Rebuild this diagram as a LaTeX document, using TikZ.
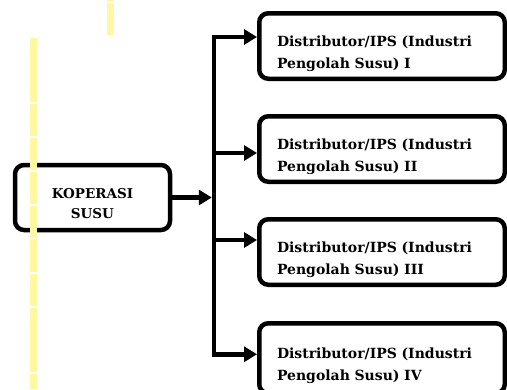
\documentclass[tikz,border=0pt]{standalone}
\usepackage{fontspec}
\setmainfont{DejaVu Serif}
\usepackage{tikz}
\usetikzlibrary{positioning,arrows.meta}
\definecolor{hlyellow}{HTML}{FFF8A0}
\tikzset{
  kopbox/.style={draw, line width=4.5pt, rounded corners=9pt, minimum width=155pt, minimum height=65pt,
                 align=center, font=\fontsize{13.5}{20}\selectfont\bfseries, text height=41pt, text depth=0pt},
  distbox/.style={draw, line width=4.5pt, rounded corners=9pt, text width=210pt, inner xsep=17.75pt,
                  minimum height=65.5pt, align=left, font=\fontsize{14}{22}\selectfont\bfseries,
                  text height=22pt, text depth=22pt},
  flow/.style={line width=4.5pt, line join=miter, -{Triangle[length=13pt,width=15pt]}},
  hlbar/.style={fill=hlyellow, draw=none},
}
\begin{document}
\begin{tikzpicture}[x=1pt, y=-1pt]
  \useasboundingbox (0,0) rectangle (507,389);
  \clip (0,0) rectangle (507,389);

  \node[kopbox] (kop) at (92.5,197.5) {KOPERASI\\SUSU};
  \node[distbox] (dist1) at (382,46) {Distributor/IPS (Industri\\Pengolah Susu) I};
  \node[distbox] (dist2) [below=33pt of dist1] {Distributor/IPS (Industri\\Pengolah Susu) II};
  \node[distbox] (dist3) [below=33pt of dist2] {Distributor/IPS (Industri\\Pengolah Susu) III};
  \node[distbox, minimum height=70pt] (dist4) [below=34pt of dist3] {Distributor/IPS (Industri\\Pengolah Susu) IV};

  % trunk and branches
  \coordinate (trunk) at (214,0);
  \coordinate (a1) at ([yshift=9pt]dist1.west);
  \coordinate (a2) at ([yshift=-4pt]dist2.west);
  \coordinate (a3) at ([yshift=12pt]dist3.west);
  \coordinate (a4) at ([yshift=4pt]dist4.west);
  \draw[flow] (a3 -| trunk) -- (a1 -| trunk) -- (a1);
  \draw[flow] (a2 -| trunk) -- (a4 -| trunk) -- (a4);
  \draw[flow] (a2 -| trunk) -- (a2);
  \draw[flow] (a3 -| trunk) -- (a3);
  \draw[flow, shorten >=2.25pt] (kop.east) -- (kop.east -| trunk);

  % yellow marks
  \foreach \ya/\yb in {38/102, 103.5/136, 137.5/170, 171.5/204, 205.5/237.5, 239/272, 273.5/306, 307.5/372, 373.5/389}
    \fill[hlbar] (30,\ya) rectangle (37,\yb);
  \foreach \ya/\yb in {0/1.5, 2.5/35}
    \fill[hlbar] (107,\ya) rectangle (114,\yb);
\end{tikzpicture}
\end{document}
